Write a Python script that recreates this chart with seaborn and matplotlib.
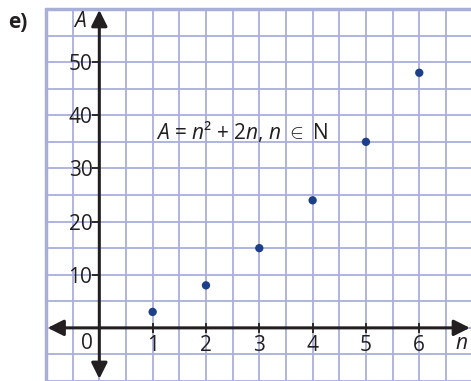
import matplotlib
matplotlib.use("Agg")
import matplotlib.pyplot as plt
import numpy as np
import seaborn as sns

# values of A = n^2 + 2n for n = 1..6
n_values = [1, 2, 3, 4, 5, 6]
a_values = [3, 8, 15, 24, 35, 48]
x_ticks = [1, 2, 3, 4, 5, 6]
y_ticks = [10, 20, 30, 40, 50]

sns.set_style("white")
plt.rcParams["font.family"] = ["Open Sans", "DejaVu Sans"]
plt.rcParams["mathtext.fontset"] = "custom"
plt.rcParams["mathtext.rm"] = "Open Sans"
plt.rcParams["mathtext.it"] = "Open Sans:italic"

grid_color = "#a9afd9"
ink = "#231f20"

fig = plt.figure(figsize=(4.71, 3.81), dpi=100)
ax = fig.add_axes([46 / 471, 0, 425 / 471, 372 / 381])
ax.set_xlim(-1, 6.97)
ax.set_ylim(-10, 60)

# graph paper, half a unit across and 5 up
for gx in np.arange(-0.5, 7, 0.5):
    ax.axvline(gx, color=grid_color, linewidth=1.3, zorder=0)
for gy in np.arange(-5, 60, 5):
    ax.axhline(gy, color=grid_color, linewidth=1.3, zorder=0)
ax.axhline(60, color=grid_color, linewidth=2.5, zorder=0, clip_on=False)
ax.axhline(-10, color=grid_color, linewidth=2, zorder=0, clip_on=False)
ax.axvline(-1, color=grid_color, linewidth=2.5, zorder=0, clip_on=False)

# axes through the origin
ax.set_xticks(x_ticks)
ax.set_yticks(y_ticks)
for side in ["top", "right", "left", "bottom"]:
    ax.spines[side].set_visible(False)
ax.spines["left"].set_position(("data", 0))
ax.spines["bottom"].set_position(("data", 0))
ax.tick_params(axis="y", left=True, direction="out", length=5, width=1.3,
               color=ink, pad=0, labelsize=15, labelcolor=ink)
ax.tick_params(axis="x", bottom=True, direction="inout", length=7, width=1.3,
               color=ink, pad=2, labelsize=15, labelcolor=ink)

# arrows
arrow = dict(arrowstyle="<|-|>", color=ink, lw=2.2, mutation_scale=24,
             shrinkA=0, shrinkB=0)
ax.annotate("", xy=(6.95, 0), xytext=(-0.97, 0), arrowprops=arrow,
            annotation_clip=False)
ax.annotate("", xy=(0, 59.8), xytext=(0, -9.6), arrowprops=arrow,
            annotation_clip=False)

sns.scatterplot(x=n_values, y=a_values, ax=ax, color="#1b3f8b", s=36,
                edgecolor="none", zorder=5)

ax.text(-0.24, -2.9, "0", fontsize=15, color=ink, ha="center", va="center")
ax.text(6.8, -2.9, "n", fontsize=15, color=ink, ha="center", va="center",
        style="italic")
ax.text(-0.37, 57.6, "A", fontsize=15, color=ink, ha="center", va="center",
        style="italic")
ax.text(1.07, 37, r"$A$ = $n$² + 2$n$, $n$ $\in$ N", fontsize=15,
        color=ink, ha="left", va="center")

fig.text(8 / 471, 1 - 22 / 381, "e)", fontsize=15, fontweight="bold",
         color=ink, va="center", ha="left")

fig.savefig("out.png", dpi=100)
